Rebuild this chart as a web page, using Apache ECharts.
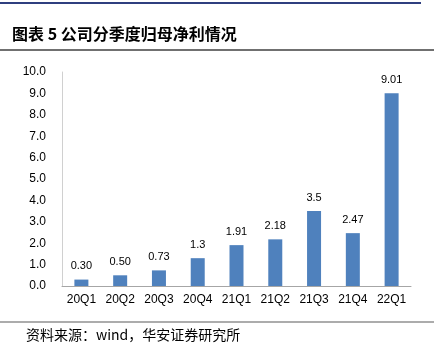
<!DOCTYPE html>
<html>
<head>
<meta charset="utf-8">
<script src="https://cdn.jsdelivr.net/npm/echarts@6/dist/echarts.min.js"></script>
<style>
  html, body { margin: 0; padding: 0; background: #fff; }
  #chart { width: 434px; height: 350px; }
</style>
</head>
<body>
<div id="chart"></div>
<script>
// Quarterly net profit attributable to parent
const categories = ['20Q1', '20Q2', '20Q3', '20Q4', '21Q1', '21Q2', '21Q3', '21Q4', '22Q1'];
const profitValues = [0.30, 0.50, 0.73, 1.3, 1.91, 2.18, 3.5, 2.47, 9.01];
const profitLabels = ['0.30', '0.50', '0.73', '1.3', '1.91', '2.18', '3.5', '2.47', '9.01'];

const chart = echarts.init(document.getElementById('chart'), null, { renderer: 'canvas' });
const cjk = '"Noto Sans CJK SC", sans-serif';
const latin = '"Liberation Sans", Arial, sans-serif';

chart.setOption({
  animation: false,
  backgroundColor: '#fff',
  grid: { left: 62, right: 23, top: 72, bottom: 64 },
  xAxis: {
    type: 'category',
    data: categories,
    axisLine: { lineStyle: { color: '#a6a6a6', width: 1 } },
    axisTick: { show: false },
    axisLabel: { color: '#000', fontFamily: latin, fontSize: 12, margin: 8 }
  },
  yAxis: {
    type: 'value',
    min: 0, max: 10, interval: 1,
    axisLine: { show: true, lineStyle: { color: '#d0d0d0', width: 1 } },
    axisTick: { show: false },
    splitLine: { show: false },
    axisLabel: {
      color: '#000', fontFamily: latin, fontSize: 12, margin: 16,
      formatter: v => v.toFixed(1)
    }
  },
  series: [{
    type: 'bar',
    data: profitValues,
    barWidth: 14,
    itemStyle: { color: '#4f81bd' },
    label: {
      show: true, position: 'top', distance: 8,
      color: '#000', fontFamily: latin, fontSize: 11,
      formatter: p => profitLabels[p.dataIndex]
    }
  }],
  graphic: [
    { type: 'line', shape: { x1: 0, y1: 3, x2: 421, y2: 3 }, style: { stroke: '#2f3f7f', lineWidth: 2 } },
    { type: 'text', left: 12, top: 26, style: { text: '图表 5 公司分季度归母净利情况', font: 'bold 16px ' + cjk, fill: '#000' } },
    { type: 'line', shape: { x1: 0, y1: 50, x2: 434, y2: 50 }, style: { stroke: '#404040', lineWidth: 1.5 } },
    { type: 'line', shape: { x1: 0, y1: 322, x2: 434, y2: 322 }, style: { stroke: '#909090', lineWidth: 1.5 } },
    { type: 'text', left: 26, top: 328, style: { text: '资料来源：wind，华安证券研究所', font: '14px ' + cjk, fill: '#000' } }
  ]
});
</script>
</body>
</html>
